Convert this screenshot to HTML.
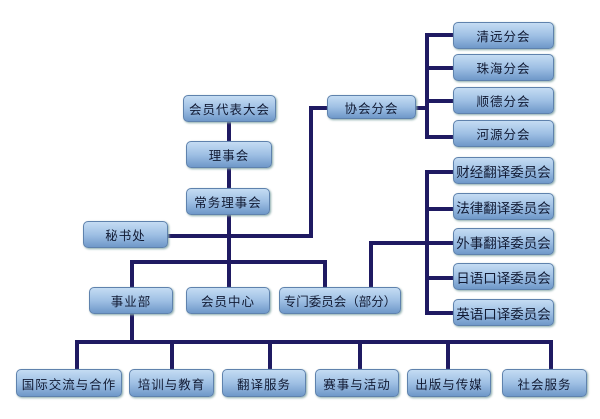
<!DOCTYPE html>
<html><head><meta charset="utf-8"><style>
body{margin:0;width:600px;height:419px;background:#fff;position:relative;overflow:hidden;font-family:"Liberation Sans","Noto Sans CJK SC",sans-serif}
.b{position:absolute;box-sizing:border-box;border:1px solid #5f82ad;border-radius:5px;background:linear-gradient(180deg,#c4dcf3 0%,#9fc0e4 50%,#6f98c9 100%);box-shadow:1px 1px 2px #8aa;display:flex;align-items:center;justify-content:center;font-size:12.5px;color:#111a33;letter-spacing:1px;white-space:nowrap}
.l{position:absolute;background:#1f1a62}
</style></head><body>
<div class="l" style="left:227px;top:120px;width:4px;height:168px"></div>
<div class="l" style="left:168px;top:234px;width:145px;height:4px"></div>
<div class="l" style="left:309px;top:106px;width:4px;height:132px"></div>
<div class="l" style="left:309px;top:106px;width:20px;height:4px"></div>
<div class="l" style="left:130px;top:260px;width:197px;height:4px"></div>
<div class="l" style="left:130px;top:260px;width:4px;height:28px"></div>
<div class="l" style="left:323px;top:260px;width:4px;height:28px"></div>
<div class="l" style="left:415px;top:106px;width:14px;height:4px"></div>
<div class="l" style="left:425px;top:33px;width:4px;height:106px"></div>
<div class="l" style="left:425px;top:33px;width:30px;height:4px"></div>
<div class="l" style="left:425px;top:66px;width:30px;height:4px"></div>
<div class="l" style="left:425px;top:99px;width:30px;height:4px"></div>
<div class="l" style="left:425px;top:135px;width:30px;height:4px"></div>
<div class="l" style="left:425px;top:170px;width:4px;height:145px"></div>
<div class="l" style="left:425px;top:170px;width:30px;height:4px"></div>
<div class="l" style="left:425px;top:207px;width:30px;height:4px"></div>
<div class="l" style="left:369px;top:241px;width:86px;height:4px"></div>
<div class="l" style="left:369px;top:241px;width:4px;height:47px"></div>
<div class="l" style="left:425px;top:276px;width:30px;height:4px"></div>
<div class="l" style="left:425px;top:311px;width:30px;height:4px"></div>
<div class="l" style="left:130px;top:313px;width:4px;height:30px"></div>
<div class="l" style="left:75px;top:340px;width:478px;height:4px"></div>
<div class="l" style="left:75px;top:340px;width:4px;height:30px"></div>
<div class="l" style="left:170px;top:340px;width:4px;height:30px"></div>
<div class="l" style="left:268px;top:340px;width:4px;height:30px"></div>
<div class="l" style="left:358px;top:340px;width:4px;height:30px"></div>
<div class="l" style="left:446px;top:340px;width:4px;height:30px"></div>
<div class="l" style="left:549px;top:340px;width:4px;height:30px"></div>

<div class="b" style="left:183px;top:95px;width:93px;height:27px">会员代表大会</div>
<div class="b" style="left:186px;top:141px;width:86px;height:27px">理事会</div>
<div class="b" style="left:186px;top:188px;width:84px;height:27px">常务理事会</div>
<div class="b" style="left:83px;top:221px;width:85px;height:27px">秘书处</div>
<div class="b" style="left:89px;top:287px;width:84px;height:27px">事业部</div>
<div class="b" style="left:186px;top:287px;width:84px;height:27px">会员中心</div>
<div class="b" style="left:279px;top:287px;width:122px;height:27px;letter-spacing:0">专门委员会（部分）</div>
<div class="b" style="left:327px;top:95px;width:89px;height:24px">协会分会</div>
<div class="b" style="left:453px;top:22px;width:101px;height:27px">清远分会</div>
<div class="b" style="left:453px;top:54px;width:101px;height:27px">珠海分会</div>
<div class="b" style="left:453px;top:87px;width:101px;height:27px">顺德分会</div>
<div class="b" style="left:453px;top:120px;width:101px;height:27px">河源分会</div>
<div class="b" style="left:453px;top:157px;width:101px;height:27px;font-size:13.5px;letter-spacing:0">财经翻译委员会</div>
<div class="b" style="left:453px;top:193px;width:101px;height:27px;font-size:13.5px;letter-spacing:0">法律翻译委员会</div>
<div class="b" style="left:453px;top:228px;width:101px;height:27px;font-size:13.5px;letter-spacing:0">外事翻译委员会</div>
<div class="b" style="left:453px;top:263px;width:101px;height:27px;font-size:13.5px;letter-spacing:0">日语口译委员会</div>
<div class="b" style="left:453px;top:299px;width:101px;height:27px;font-size:13.5px;letter-spacing:0">英语口译委员会</div>
<div class="b" style="left:16px;top:369px;width:106px;height:28px">国际交流与合作</div>
<div class="b" style="left:129px;top:369px;width:85px;height:28px">培训与教育</div>
<div class="b" style="left:222px;top:369px;width:84px;height:28px">翻译服务</div>
<div class="b" style="left:315px;top:369px;width:84px;height:28px">赛事与活动</div>
<div class="b" style="left:407px;top:369px;width:84px;height:28px">出版与传媒</div>
<div class="b" style="left:502px;top:369px;width:85px;height:28px">社会服务</div>
</body></html>
